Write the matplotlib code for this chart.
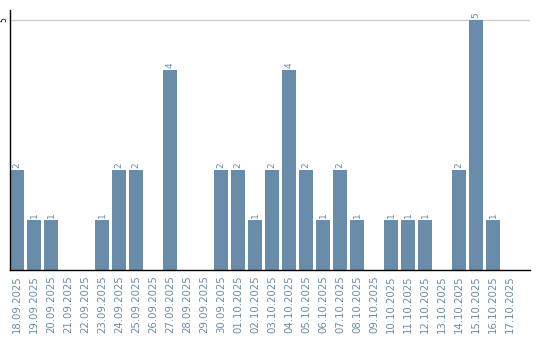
import matplotlib
matplotlib.use("Agg")
import matplotlib.pyplot as plt
import numpy as np

dates = ["18.09.2025", "19.09.2025", "20.09.2025", "21.09.2025", "22.09.2025",
         "23.09.2025", "24.09.2025", "25.09.2025", "26.09.2025", "27.09.2025",
         "28.09.2025", "29.09.2025", "30.09.2025", "01.10.2025", "02.10.2025",
         "03.10.2025", "04.10.2025", "05.10.2025", "06.10.2025", "07.10.2025",
         "08.10.2025", "09.10.2025", "10.10.2025", "11.10.2025", "12.10.2025",
         "13.10.2025", "14.10.2025", "15.10.2025", "16.10.2025", "17.10.2025"]
counts = [2, 1, 1, 0, 0, 1, 2, 2, 0, 4,
          0, 0, 2, 2, 1, 2, 4, 2, 1, 2,
          1, 0, 1, 1, 1, 0, 2, 5, 1, 0]

bar_color = "#6a8cab"
label_color = "#6a8cab"

fig = plt.figure(figsize=(5.4, 3.4), dpi=100)
ax = fig.add_axes([10/540, 70/340, 520/540, 260/340])

x = np.arange(len(dates))
width = 14/17
ax.bar(x, counts, width=width, align="edge", color=bar_color, zorder=2)

for xi, c in zip(x, counts):
    if c > 0:
        ax.text(xi + width/2, c + 0.04, str(c), rotation=90, ha="center", va="bottom",
                fontsize=6.5, color=label_color)

ax.set_xlim(0, 520/17)
ax.set_ylim(0, 5.2)
ax.set_yticks([5])
ax.set_yticklabels(["5"], rotation=90, va="center", fontsize=5.5)
ax.tick_params(axis="y", length=0, pad=1.5)
ax.axhline(5, color="#cccccc", lw=1, zorder=1)

ax.set_xticks(x + width/2)
ax.set_xticklabels(dates, rotation=90, fontsize=7.3, color=label_color)
ax.tick_params(axis="x", length=0, pad=4)

for s in ["top", "right"]:
    ax.spines[s].set_visible(False)
ax.spines["left"].set_color("black")
ax.spines["bottom"].set_color("black")
ax.spines["left"].set_linewidth(1)
ax.spines["bottom"].set_linewidth(1)

fig.savefig("out.png", dpi=100)
